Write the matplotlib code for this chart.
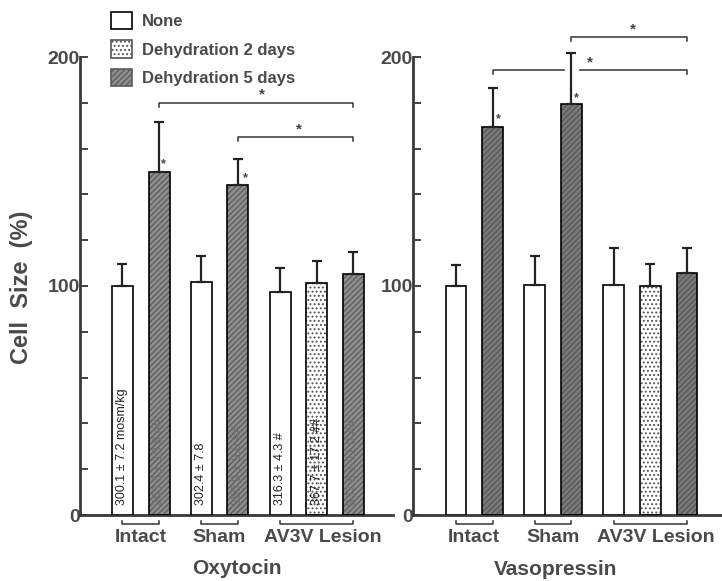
import matplotlib
matplotlib.use("Agg")
import matplotlib.pyplot as plt
import matplotlib.ticker as mticker
from matplotlib.patches import Patch
import numpy as np

# ── Data ───────────────────────────────────────────────────────────────────────
groups = ["Intact", "Sham", "AV3V Lesion"]
labels = ["None", "Dehydration 2 days", "Dehydration 5 days"]

# Oxytocin (cell size %, upper SEM)
oxt_none     = [100.0, 101.7, 97.4]
oxt_none_err = [9.6, 11.3, 10.4]
oxt_d2       = [None, None, 101.3]
oxt_d2_err   = [None, None, 9.7]
oxt_d5       = [149.6, 144.0, 105.2]
oxt_d5_err   = [22.1, 11.6, 9.6]

# Vasopressin
avp_none     = [100.0, 100.5, 100.4]
avp_none_err = [9.0, 12.5, 16.4]
avp_d2       = [None, None, 100.0]
avp_d2_err   = [None, None, 9.6]
avp_d5       = [169.6, 179.6, 105.5]
avp_d5_err   = [16.9, 22.1, 11.3]

# plasma osmolality written inside the oxytocin bars
osm_none = ["300.1 ± 7.2 mosm/kg", "302.4 ± 7.8", "316.3 ± 4.3 #"]
osm_d2   = [None, None, "367.7 ± 17.2 ##"]
osm_d5   = ["353.3 ± 10.8 ##", "350.9 ± 9.0 ##", "337.8 ± 11.0 ##"]

# ── Style ──────────────────────────────────────────────────────────────────────
plt.rcParams["font.family"] = ["Liberation Sans", "DejaVu Sans"]
plt.rcParams["font.weight"] = "bold"
plt.rcParams["hatch.linewidth"] = 0.9
TXT = "#4a4a4a"
W = 0.57
group_start = [0.0, 2.15, 4.31]

fig = plt.figure(figsize=(7.22, 5.81), dpi=100)
FW, FH = 722, 581


def px_axes(x0, x1, ytop, ybot):
    return fig.add_axes([x0 / FW, (FH - ybot) / FH, (x1 - x0) / FW, (ybot - ytop) / FH])


ax1 = px_axes(80, 393, 57, 515)
ax2 = px_axes(413, 722, 57, 515)
ax1.set_xlim(-1.161, 7.39)
ax2.set_xlim(-1.175, 7.268)


def draw_panel(ax, series, errs, dark, dark_hatch):
    styles = [
        dict(fc="white", hatch=None, hc="black"),
        dict(fc="white", hatch="....", hc="#555555"),
        dict(fc=dark, hatch="//////", hc=dark_hatch),
    ]
    centers = {}
    for g in range(len(groups)):
        slot = 0
        for s in range(3):
            v = series[s][g]
            if v is None:
                continue
            x = group_start[g] + slot
            centers[(g, s)] = x
            st = styles[s]
            if st["hatch"]:
                ax.bar(x, v, W, color=st["fc"], hatch=st["hatch"],
                       edgecolor=st["hc"], linewidth=0, zorder=2)
                ax.bar(x, v, W, color="none", edgecolor="black",
                       linewidth=1.2, zorder=3)
            else:
                ax.bar(x, v, W, color=st["fc"], edgecolor="black",
                       linewidth=1.2, zorder=3)
            eb = ax.errorbar(x, v, yerr=[[0], [errs[s][g]]], fmt="none",
                             ecolor="#222222", elinewidth=1.6, capsize=3.5,
                             capthick=1.6, zorder=4)
            for art in eb.lines[1] + eb.lines[2]:
                art.set_clip_on(False)
            slot += 1
    ax.set_ylim(0, 200)
    ax.yaxis.set_major_locator(mticker.FixedLocator([0, 100, 200]))
    ax.yaxis.set_minor_locator(mticker.MultipleLocator(20))
    ax.tick_params(axis="y", which="both", direction="in", length=6,
                   width=1.3, colors="#333333", labelcolor=TXT,
                   labelsize=14, pad=0)
    ax.set_xticks([])
    for sp in ["top", "right"]:
        ax.spines[sp].set_visible(False)
    for sp in ["left", "bottom"]:
        ax.spines[sp].set_linewidth(2.0)
        ax.spines[sp].set_color("#3a3a3a")

    # group brackets and labels below axis
    for g, name in enumerate(groups):
        xs = [centers[k] for k in centers if k[0] == g]
        a, b = min(xs), max(xs)
        ax.plot([a, a, b, b], [-2.5, -3.8, -3.8, -2.5], color="#333333",
                lw=1.1, clip_on=False)
        off = 0.15 if g == 2 else 0.0
        ax.text((a + b) / 2 + off, -6.2, name, ha="center", va="top",
                fontsize=14, color=TXT, clip_on=False)
    return centers


def bracket(ax, x0, x1, y, drop=1.8, gap=None):
    if gap is None:
        ax.plot([x0, x0, x1, x1], [y - drop, y, y, y - drop], color="#333333",
                lw=1.1, clip_on=False)
    else:
        ax.plot([x0, x0, gap[0]], [y - drop, y, y], color="#333333", lw=1.1, clip_on=False)
        ax.plot([gap[1], x1, x1], [y, y, y - drop], color="#333333", lw=1.1, clip_on=False)


def star(ax, x, y, size=11):
    ax.text(x, y, "*", ha="center", va="center", fontsize=size, color="#444444",
            clip_on=False)


c1 = draw_panel(ax1, [oxt_none, oxt_d2, oxt_d5],
                [oxt_none_err, oxt_d2_err, oxt_d5_err], "#8e8e8e", "#5a5a5a")
c2 = draw_panel(ax2, [avp_none, avp_d2, avp_d5],
                [avp_none_err, avp_d2_err, avp_d5_err], "#7a7a7a", "#555555")

# osmolality text inside oxytocin bars
for g in range(len(groups)):
    for s, txts, col in [(0, osm_none, "#222222"), (1, osm_d2, "#222222"),
                         (2, osm_d5, "#6e6e6e")]:
        t = txts[g]
        if t is None:
            continue
        ax1.text(c1[(g, s)], 4.4, t, rotation=90, ha="center", va="bottom",
                 fontsize=9, fontweight="normal", color=col, zorder=5)

# significance marks — oxytocin
bracket(ax1, c1[(0, 2)], c1[(2, 2)], 180)
star(ax1, (c1[(0, 2)] + c1[(2, 2)]) / 2 + 0.15, 183.5)
bracket(ax1, c1[(1, 2)], c1[(2, 2)], 165)
star(ax1, (c1[(1, 2)] + c1[(2, 2)]) / 2 + 0.1, 168.5)
star(ax1, c1[(0, 2)] + 0.13, 153, 9)
star(ax1, c1[(1, 2)] + 0.2, 147, 9)

# significance marks — vasopressin
bracket(ax2, c2[(1, 2)], c2[(2, 2)], 208.7)
star(ax2, (c2[(1, 2)] + c2[(2, 2)]) / 2 + 0.1, 212)
bracket(ax2, c2[(0, 2)], c2[(2, 2)], 194.3, gap=(c2[(1, 2)] - 0.2, c2[(1, 2)] + 0.25))
star(ax2, c2[(1, 2)] + 0.5, 197.5)
star(ax2, c2[(0, 2)] + 0.15, 173, 9)
star(ax2, c2[(1, 2)] + 0.15, 182, 9)

# panel titles and y label
ax1.text(0.5, -0.116, "Oxytocin", transform=ax1.transAxes, ha="center",
         va="center", fontsize=15, color=TXT)
ax2.text(0.46, -0.12, "Vasopressin", transform=ax2.transAxes, ha="center",
         va="center", fontsize=15, color=TXT)
fig.text(22 / FW, 1 - 287 / FH, "Cell  Size  (%)", rotation=90, ha="center",
         va="center", fontsize=17, color=TXT)

# legend
handles = [
    Patch(facecolor="white", edgecolor="black", linewidth=1.2),
    Patch(facecolor="white", edgecolor="#555555", hatch="....", linewidth=1.2),
    Patch(facecolor="#8e8e8e", edgecolor="#5a5a5a", hatch="//////", linewidth=1.2),
]
leg = fig.legend(handles, labels, loc="upper left",
                 bbox_to_anchor=(111 / FW, 1 - 12 / FH), frameon=False,
                 fontsize=12, handlelength=1.25, handleheight=1.2,
                 labelspacing=0.68, handletextpad=0.6, borderpad=0,
                 borderaxespad=0)
for t in leg.get_texts():
    t.set_color(TXT)

fig.savefig("out.png", dpi=100)
